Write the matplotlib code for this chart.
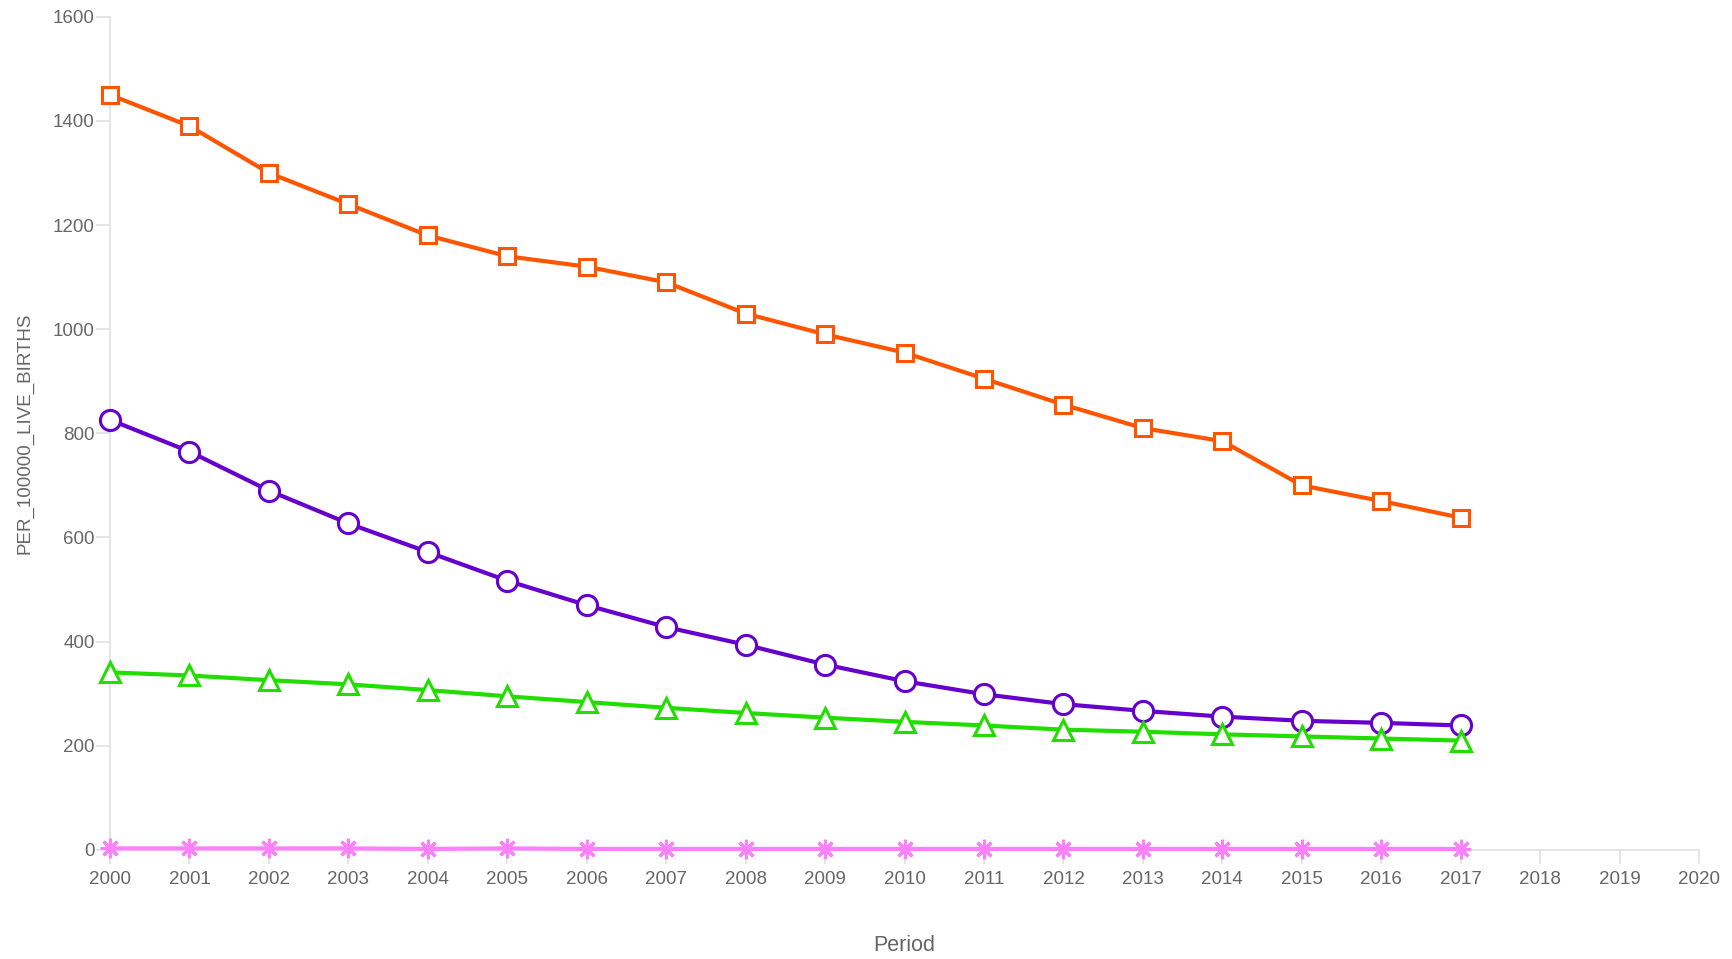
import matplotlib
matplotlib.use("Agg")
import matplotlib.pyplot as plt

years = list(range(2000, 2018))
orange_vals = [1450, 1390, 1300, 1240, 1180, 1140, 1120, 1090, 1030, 990, 955, 905, 855, 810, 785, 700, 670, 638]
purple_vals = [826, 765, 690, 627, 572, 517, 470, 428, 394, 356, 324, 299, 280, 267, 256, 248, 244, 239]
green_vals = [341, 335, 326, 318, 307, 295, 284, 273, 263, 254, 246, 239, 231, 227, 222, 218, 214, 210]
pink_vals = [3, 3, 3, 3, 2, 3, 2, 2, 2, 2, 2, 2, 2, 2, 2, 2, 2, 2]
x_ticks = list(range(2000, 2021))
y_ticks = list(range(0, 1601, 200))

plt.rcParams['font.family'] = ['Liberation Sans', 'DejaVu Sans']

fig = plt.figure(figsize=(17.32, 9.59), dpi=100)
ax = fig.add_axes([0.0635, 0.1137, 0.9175, 0.8689])

lw = 3.0
ax.plot(years, orange_vals, color='#ff5500', lw=lw, marker='s', ms=11.5, mfc='white', mec='#ff5500', mew=2.2, zorder=4, clip_on=False)
ax.plot(years, purple_vals, color='#6600cc', lw=lw, marker='o', ms=14.5, mfc='white', mec='#6600cc', mew=2.2, zorder=4, clip_on=False)
ax.plot(years, green_vals, color='#22dd00', lw=lw, marker='^', ms=14, mfc='white', mec='#22dd00', mew=2.2, zorder=4, clip_on=False)
ax.plot(years, pink_vals, color='#ff80ff', lw=lw, marker=(8, 2, 0), ms=14, mfc='#ff80ff', mec='#ff80ff', mew=2.2, zorder=4, clip_on=False)

ax.set_xlim(2000, 2020)
ax.set_ylim(0, 1600)
ax.set_xticks(x_ticks)
ax.set_yticks(y_ticks)
ax.set_xticklabels([str(v) for v in x_ticks])
ax.set_yticklabels([str(v) for v in y_ticks])

for side in ['top', 'right']:
    ax.spines[side].set_visible(False)
for side in ['left', 'bottom']:
    ax.spines[side].set_color('#e0e0e0')
    ax.spines[side].set_linewidth(1.2)

ax.tick_params(axis='both', colors='#e0e0e0', labelcolor='#666666', labelsize=13.5, length=10, width=1.2)
ax.tick_params(axis='x', pad=5)
ax.tick_params(axis='y', pad=1)

ax.set_xlabel('Period', fontsize=15.5, color='#666666', labelpad=34)
ax.set_ylabel('PER_100000_LIVE_BIRTHS', fontsize=13.5, color='#666666', labelpad=14)

fig.savefig('out.png', dpi=100)
